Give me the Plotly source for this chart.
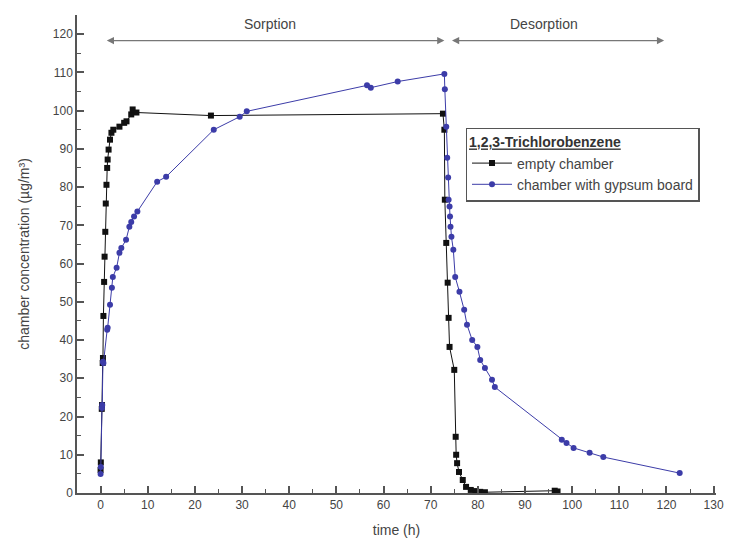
import plotly.graph_objects as go

# Empty chamber (black squares)
empty_t = [0.0, 0.05, 0.25, 0.3, 0.45, 0.5, 0.6, 0.75, 0.85, 1.0, 1.1, 1.25, 1.4, 1.5, 1.7, 2.0, 2.3, 2.7,
           4.0, 5.0, 5.5, 6.5, 6.8, 7.6, 23.4, 72.6,
           72.9, 73.0, 73.3, 73.6, 73.8, 74.0, 75.0, 75.3, 75.4, 75.6, 76.0, 76.8, 77.5, 78.5, 79.5, 80.5, 81.5,
           96.3, 96.9]
empty_c = [6.0, 8.0, 22.0, 23.0, 34.0, 35.3, 46.3, 55.2, 61.8, 68.3, 75.7, 80.6, 85.0, 87.2, 89.8, 92.4, 94.2, 95.0,
           95.8, 96.8, 97.2, 99.0, 100.3, 99.5, 98.7, 99.2,
           95.0, 76.7, 65.4, 55.0, 45.8, 38.2, 32.2, 14.7, 10.0, 7.8, 5.5, 3.4, 1.6, 0.8, 0.5, 0.3, 0.2,
           0.6, 0.4]

# Chamber with gypsum board (blue circles)
gyp_t = [0.0, 0.05, 0.3, 0.35, 0.5, 0.6, 1.4, 1.5, 2.0, 2.4, 2.6, 3.4, 4.0, 4.4, 5.4, 6.1, 6.5, 7.1, 7.8,
         12.0, 13.9, 24.0, 29.5, 31.0, 56.5, 57.3, 63.0, 72.9,
         73.0, 73.3, 73.5, 73.7, 73.8, 74.0, 74.1, 74.2, 74.4, 74.8, 75.2, 76.1, 77.1, 77.7, 78.8, 79.9, 80.5,
         81.5, 83.0, 83.6, 97.8, 98.8, 100.3, 103.7, 106.6, 122.8]
gyp_c = [5.0, 6.8, 22.2, 23.0, 34.3, 34.0, 42.7, 43.2, 49.2, 53.7, 56.5, 58.9, 62.8, 64.1, 66.2, 69.6, 70.9, 72.3, 73.6,
         81.4, 82.7, 95.0, 98.4, 99.8, 106.6, 106.0, 107.6, 109.6,
         105.6, 95.8, 87.7, 82.5, 76.7, 74.9, 72.3, 69.6, 67.0, 63.6, 56.5, 52.6, 47.9, 44.0, 40.0, 38.2, 34.8,
         32.7, 29.6, 27.7, 13.9, 13.1, 11.8, 10.5, 9.4, 5.2]

# Phase labels and extents (hours)
phase_names = ["Sorption", "Desorption"]
phase_start = [1.0, 74.2]
phase_end = [72.9, 119.5]
phase_label_t = [36.0, 94.0]
phase_level = 118.3

x_ticks = list(range(0, 131, 10))
y_ticks = list(range(0, 121, 10))

BLUE = "#3c3ca8"
GRAY = "#555555"
FONT = "Liberation Sans, Arial, sans-serif"

fig = go.Figure()
fig.add_trace(go.Scatter(
    x=empty_t, y=empty_c, mode="lines+markers", name="empty chamber",
    line=dict(color="#111111", width=1),
    marker=dict(symbol="square", size=6, color="#111111"),
))
fig.add_trace(go.Scatter(
    x=gyp_t, y=gyp_c, mode="lines+markers", name="chamber with gypsum board",
    line=dict(color=BLUE, width=1),
    marker=dict(symbol="circle", size=6, color=BLUE),
))

annotations = []
for name, s, e, lt in zip(phase_names, phase_start, phase_end, phase_label_t):
    annotations.append(dict(
        x=e, y=phase_level, ax=s, ay=phase_level, xref="x", yref="y", axref="x", ayref="y",
        showarrow=True, arrowhead=2, arrowsize=1.2, arrowwidth=1.2, arrowcolor="#777777",
        arrowside="end+start", text="",
    ))
    annotations.append(dict(
        x=lt, y=phase_level, xref="x", yref="y", yanchor="bottom", yshift=7,
        showarrow=False, text=name, font=dict(family=FONT, size=14, color="#444444"),
    ))

fig.update_layout(
    width=736, height=548,
    margin=dict(l=77, r=16, t=15, b=55),
    paper_bgcolor="white", plot_bgcolor="white",
    font=dict(family=FONT, size=12, color="#444444"),
    showlegend=True,
    legend=dict(
        x=0.608, y=0.764, xanchor="left", yanchor="top",
        bordercolor="#555555", borderwidth=1.5, bgcolor="white",
        title=dict(text="<b><u>1,2,3-Trichlorobenzene</u></b>", font=dict(size=14, color="#333333")),
        font=dict(size=14, color="#444444"),
        tracegroupgap=0, itemwidth=40,
    ),
    annotations=annotations,
)
fig.update_xaxes(
    range=[-5, 130.5], tickmode="array", tickvals=x_ticks, ticktext=[str(v) for v in x_ticks],
    ticks="inside", ticklen=7, tickwidth=1.5, tickcolor=GRAY,
    minor=dict(ticks="inside", ticklen=4, dtick=5, tick0=0, tickcolor=GRAY, tickwidth=1.2),
    showline=True, linecolor=GRAY, linewidth=1.5, showgrid=False, zeroline=False,
    title=dict(text="time (h)", font=dict(size=14, color="#444444"), standoff=14),
    tickfont=dict(size=12, color="#444444"),
)
fig.update_yaxes(
    range=[0, 125], tickmode="array", tickvals=y_ticks, ticktext=[str(v) for v in y_ticks],
    ticks="inside", ticklen=7, tickwidth=1.5, tickcolor=GRAY,
    minor=dict(ticks="inside", ticklen=4, dtick=5, tick0=0, tickcolor=GRAY, tickwidth=1.2),
    showline=True, linecolor=GRAY, linewidth=1.5, showgrid=False, zeroline=False,
    title=dict(text="chamber concentration (µg/m³)", font=dict(size=14, color="#444444"), standoff=20),
    tickfont=dict(size=12, color="#444444"),
)

fig.write_html("out.html")
